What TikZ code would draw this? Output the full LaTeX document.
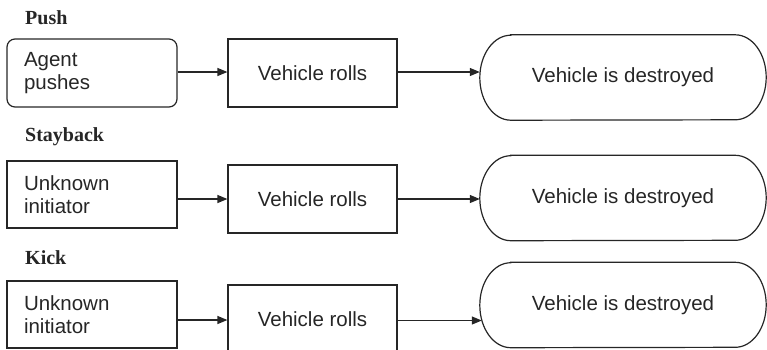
\documentclass[tikz,border=0pt]{standalone}
\usepackage{fontspec}
\setmainfont{Liberation Sans}
\newfontfamily\hdrfont{Liberation Serif}
\usetikzlibrary{arrows.meta}
\definecolor{ink}{HTML}{262626}
\begin{document}
\begin{tikzpicture}[x=1pt,y=-1pt,
  box/.style={draw=ink, line width=1.2pt, minimum width=170pt, minimum height=67pt,
    inner sep=0pt, font=\fontsize{20.5}{23}\selectfont, text=ink},
  startbox/.style={box, text width=136pt, align=left},
  rollbox/.style={box, minimum width=169pt, minimum height=68pt},
  term/.style={minimum width=286pt, minimum height=85pt, inner sep=0pt,
    font=\fontsize{20.5}{23}\selectfont, text=ink},
  termline/.style={draw=ink, line width=1.2pt},
  hdr/.style={font=\hdrfont\bfseries\fontsize{20}{24}\selectfont, anchor=base west,
    inner sep=0pt, text=ink},
  arr/.style={draw=ink, line width=1.2pt, -{Triangle[length=10pt,width=8pt]}}
]
\useasboundingbox (0,0) rectangle (767,349);

% headers
\node[hdr] (h1) at (25,24) {Push};
\node[hdr] (h2) at (25,141) {Stayback};
\node[hdr] (h3) at (25,264) {Kick};

% row 1
\node[startbox, rounded corners=8pt, minimum height=68pt] (a1) at (92,73) {Agent\\pushes};
\node[rollbox] (b1) at (312.5,73) {Vehicle rolls};
\node[term] (t1) at (623,77.5) {Vehicle is destroyed};

% row 2
\node[startbox] (a2) at (92,194.5) {Unknown\\initiator};
\node[rollbox] (b2) at (312.5,199) {Vehicle rolls};
\node[term] (t2) at (623,198) {Vehicle is destroyed};

% row 3
\node[startbox] (a3) at (92,314.5) {Unknown\\initiator};
\node[rollbox] (b3) at (312.5,319) {Vehicle rolls};
\node[term] (t3) at (623,305) {Vehicle is destroyed};

% terminal outlines
\foreach \t in {t1,t2,t3}{
  \draw[termline] ([xshift=31pt]\t.north west) -- ([xshift=-31pt]\t.north east)
    arc[start angle=90,end angle=-90,x radius=31pt,y radius=42.5pt]
    -- ([xshift=31pt]\t.south west)
    arc[start angle=270,end angle=90,x radius=31pt,y radius=42.5pt] -- cycle;
}

% connectors
\draw[arr] ([yshift=1pt]a1.east) -- ([yshift=1pt]b1.west);
\draw[arr] ([yshift=1pt]b1.east) -- ([yshift=1pt]b1.east -| t1.west);
\draw[arr] (a2.east |- b2.west) -- (b2.west);
\draw[arr] (b2.east) -- (b2.east -| t2.west);
\draw[arr] ([yshift=-1pt]a3.east |- b3.west) -- ([yshift=-1pt]b3.west);
\draw[arr] ([yshift=-1.5pt]b3.east) -- ([yshift=-1.5pt,xshift=2pt]b3.east -| t3.west);
\end{tikzpicture}
\end{document}
